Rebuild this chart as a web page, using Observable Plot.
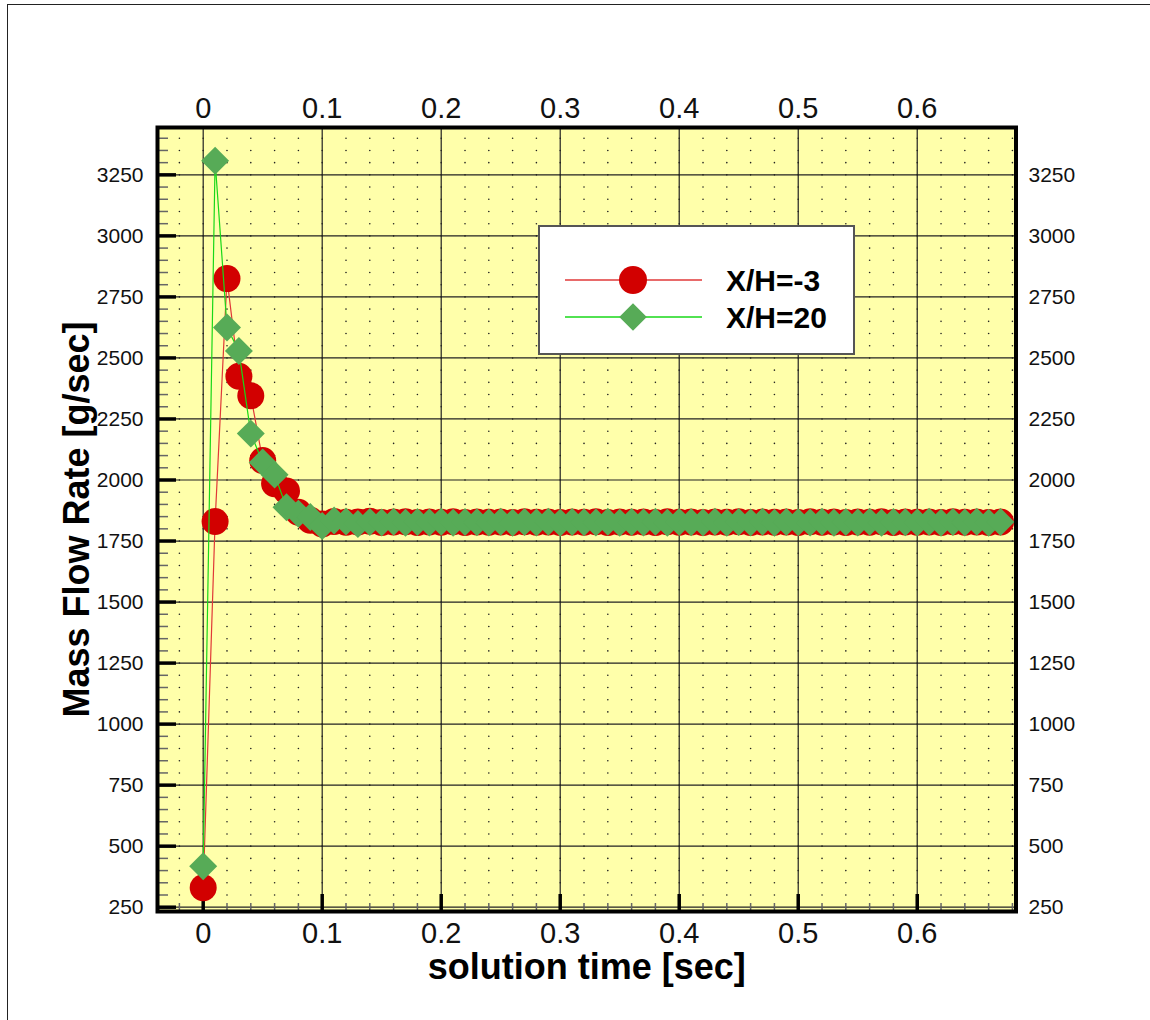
<!DOCTYPE html>
<html>
<head>
<meta charset="utf-8">
<script src="https://cdn.jsdelivr.net/npm/d3@7"></script>
<script src="https://cdn.jsdelivr.net/npm/@observablehq/plot@0.6"></script>
<style>
  body { margin: 0; background: #fff; }
  #wrap { position: relative; width: 1150px; height: 1020px; overflow: hidden; }
  #border { position: absolute; left: 7px; top: 4px; right: -10px; bottom: -10px;
            border-left: 1px solid #222; border-top: 1px solid #222; pointer-events: none; }
  #chart { position: absolute; left: 0; top: 0; }
  #legend { position: absolute; left: 538px; top: 225px; }
</style>
</head>
<body>
<div id="wrap"><div id="border"></div><div id="chart"></div><div id="legend"></div></div>
<script>
// ---- data ----
const time = [0, 0.01, 0.02, 0.03, 0.04, 0.05, 0.06, 0.07, 0.08, 0.09,
  0.10, 0.11, 0.12, 0.13, 0.14, 0.15, 0.16, 0.17, 0.18, 0.19,
  0.20, 0.21, 0.22, 0.23, 0.24, 0.25, 0.26, 0.27, 0.28, 0.29,
  0.30, 0.31, 0.32, 0.33, 0.34, 0.35, 0.36, 0.37, 0.38, 0.39,
  0.40, 0.41, 0.42, 0.43, 0.44, 0.45, 0.46, 0.47, 0.48, 0.49,
  0.50, 0.51, 0.52, 0.53, 0.54, 0.55, 0.56, 0.57, 0.58, 0.59,
  0.60, 0.61, 0.62, 0.63, 0.64, 0.65, 0.66, 0.67];

const flowXHm3 = [330, 1830, 2825, 2425, 2345, 2080, 1985, 1955, 1868, 1835, 1820,
  1830, 1827, 1828, 1831, 1826, 1828, 1829, 1826, 1828, 1827,
  1829, 1826, 1828, 1827, 1828, 1826, 1829, 1827, 1828, 1826,
  1828, 1827, 1829, 1826, 1828, 1827, 1828, 1826, 1829, 1827,
  1828, 1826, 1828, 1827, 1829, 1826, 1828, 1827, 1828, 1826,
  1829, 1827, 1828, 1826, 1828, 1827, 1829, 1826, 1828, 1827,
  1828, 1826, 1829, 1827, 1828, 1826, 1828];

const flowXH20 = [418, 3308, 2625, 2528, 2190, 2072, 2022, 1888, 1862, 1848, 1812,
  1834, 1830, 1820, 1828, 1826, 1829, 1825, 1828, 1826, 1829,
  1825, 1828, 1827, 1826, 1829, 1825, 1828, 1826, 1829, 1825,
  1828, 1827, 1826, 1829, 1825, 1828, 1826, 1829, 1825, 1828,
  1827, 1826, 1829, 1825, 1828, 1826, 1829, 1825, 1828, 1827,
  1826, 1829, 1825, 1828, 1826, 1829, 1825, 1828, 1827, 1826,
  1829, 1825, 1828, 1826, 1829, 1825, 1828];

const seriesNames = ["X/H=-3", "X/H=20"];
const xMajorTicks = [0, 0.1, 0.2, 0.3, 0.4, 0.5, 0.6];
const xMinorTicks = [-0.02, 0, 0.02, 0.04, 0.06, 0.08, 0.1, 0.12, 0.14, 0.16, 0.18, 0.2,
  0.22, 0.24, 0.26, 0.28, 0.3, 0.32, 0.34, 0.36, 0.38, 0.4, 0.42, 0.44, 0.46, 0.48, 0.5,
  0.52, 0.54, 0.56, 0.58, 0.6, 0.62, 0.64, 0.66, 0.68];
const yMajorTicks = [250, 500, 750, 1000, 1250, 1500, 1750, 2000, 2250, 2500, 2750, 3000, 3250];
const yMinorTicks = [250, 300, 350, 400, 450, 500, 550, 600, 650, 700, 750, 800, 850, 900, 950,
  1000, 1050, 1100, 1150, 1200, 1250, 1300, 1350, 1400, 1450, 1500, 1550, 1600, 1650, 1700,
  1750, 1800, 1850, 1900, 1950, 2000, 2050, 2100, 2150, 2200, 2250, 2300, 2350, 2400, 2450,
  2500, 2550, 2600, 2650, 2700, 2750, 2800, 2850, 2900, 2950, 3000, 3050, 3100, 3150, 3200,
  3250, 3300, 3350, 3400];
const xTitle = "solution time [sec]";
const yTitle = "Mass Flow Rate [g/sec]";

// ---- tables ----
const red = time.map((t, i) => ({t, v: flowXHm3[i], s: seriesNames[0]}));
const green = time.map((t, i) => ({t, v: flowXH20[i], s: seriesNames[1]}));
const gridPts = xMinorTicks.flatMap(x => yMinorTicks.map(y => ({x, y})));

const W = 1150, H = 1020, mL = 157, mR = 134.5, mT = 127, mB = 109;
const plotW = W - mL - mR, plotH = H - mT - mB;
const fmt = d => String(d);
const font = "'Liberation Sans', Arial, Helvetica, sans-serif";

const chart = Plot.plot({
  width: W, height: H,
  marginLeft: mL, marginRight: mR, marginTop: mT, marginBottom: mB,
  style: {fontFamily: font, background: "transparent", color: "#111", overflow: "visible"},
  x: {domain: [-0.0384, 0.683], label: null},
  y: {domain: [232.4, 3444], label: null},
  marks: [
    Plot.frame({fill: "#ffffaa", stroke: "none"}),
    Plot.dot(gridPts, {x: "x", y: "y", r: 0.8, fill: "#222", stroke: "none"}),
    Plot.ruleX(xMajorTicks, {x: d => d, stroke: "#222", strokeWidth: 1.2}),
    Plot.ruleY(yMajorTicks, {y: d => d, stroke: "#222", strokeWidth: 1.2}),
    Plot.tickY(yMinorTicks, {y: d => d, stroke: "#666", strokeWidth: 1.5, insetRight: plotW - 11}),
    Plot.tickY(yMajorTicks, {y: d => d, stroke: "#000", strokeWidth: 3.5, insetRight: plotW - 19}),
    Plot.tickX(xMinorTicks, {x: d => d, stroke: "#666", strokeWidth: 1.5, insetTop: plotH - 8}),
    Plot.tickX(xMajorTicks, {x: d => d, stroke: "#000", strokeWidth: 3.5, insetTop: plotH - 17}),
    Plot.line(red, {x: "t", y: "v", stroke: "#e03838", strokeWidth: 1.2}),
    Plot.dot(red, {x: "t", y: "v", r: 13.5, fill: "#d20000", stroke: "none"}),
    Plot.line(green, {x: "t", y: "v", stroke: "#18d818", strokeWidth: 1.2}),
    Plot.dot(green, {x: "t", y: "v", r: 12.6, symbol: "diamond2", fill: "#57ab57", stroke: "none"}),
    Plot.frame({stroke: "#000", strokeWidth: 4}),
    Plot.axisY(yMajorTicks, {anchor: "left", tickSize: 0, tickPadding: 14, fontSize: 21, tickFormat: fmt, label: null}),
    Plot.axisY(yMajorTicks, {anchor: "right", tickSize: 0, tickPadding: 12.5, fontSize: 21, tickFormat: fmt, label: null}),
    Plot.axisX(xMajorTicks, {anchor: "bottom", tickSize: 0, tickPadding: 10.5, fontSize: 29, tickFormat: fmt, label: null}),
    Plot.axisX(xMajorTicks, {anchor: "top", tickSize: 0, tickPadding: 10, fontSize: 29, tickFormat: fmt, label: null}),
    Plot.text([xTitle], {text: d => d, frameAnchor: "bottom", textAnchor: "middle", lineAnchor: "middle",
      dy: 56, fontSize: 36, fontWeight: "bold", fill: "#000"}),
    Plot.text([yTitle], {text: d => d, frameAnchor: "left", textAnchor: "middle", lineAnchor: "middle",
      rotate: -90, dx: -80, fontSize: 36, fontWeight: "bold", fill: "#000"})
  ]
});
document.getElementById("chart").appendChild(chart);

// ---- legend (inside the plot area, as in the reference) ----
const lg = d3.select("#legend").append("svg")
  .attr("width", 318).attr("height", 131)
  .style("font-family", font);
lg.append("rect").attr("x", 1).attr("y", 1).attr("width", 315).attr("height", 128)
  .attr("fill", "#fff").attr("stroke", "#555").attr("stroke-width", 2);
const rows = [
  {name: seriesNames[0], y: 55, line: "#e03838", fill: "#d20000", sym: d3.symbolCircle, size: Math.PI * 14 * 14},
  {name: seriesNames[1], y: 92, line: "#18d818", fill: "#57ab57", sym: d3.symbolDiamond2, size: Math.PI * 12.4 * 12.4}
];
rows.forEach(r => {
  lg.append("line").attr("x1", 27).attr("x2", 164).attr("y1", r.y).attr("y2", r.y)
    .attr("stroke", r.line).attr("stroke-width", 1.3);
  lg.append("path").attr("d", d3.symbol(r.sym, r.size)())
    .attr("transform", `translate(95,${r.y})`).attr("fill", r.fill);
  lg.append("text").attr("x", 188).attr("y", r.y + 10.5)
    .attr("font-size", 30).attr("font-weight", "bold").attr("fill", "#000").text(r.name);
});
</script>
</body>
</html>
